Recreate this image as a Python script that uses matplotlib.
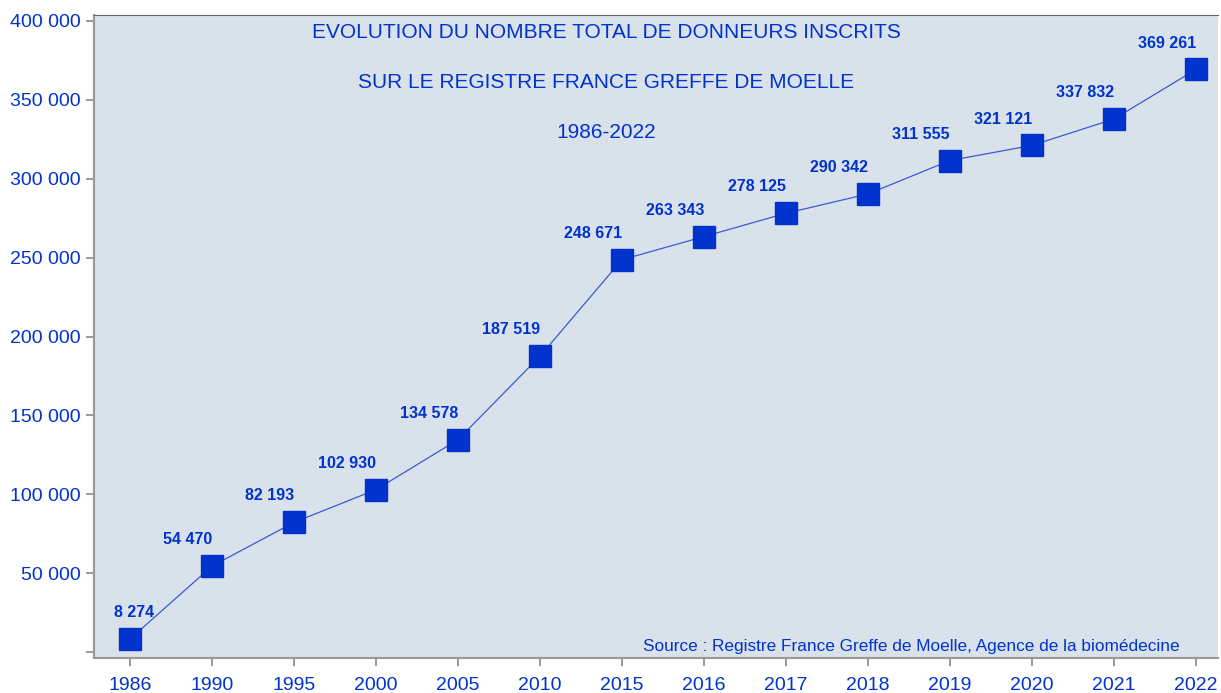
import matplotlib.pyplot as plt
from matplotlib.ticker import FuncFormatter

years = ['1986', '1990', '1995', '2000', '2005', '2010', '2015', '2016',
         '2017', '2018', '2019', '2020', '2021', '2022']
donneurs = [8274, 54470, 82193, 102930, 134578, 187519, 248671, 263343,
            278125, 290342, 311555, 321121, 337832, 369261]

blue = '#0033cc'
plt.rcParams['font.family'] = ['Liberation Sans', 'DejaVu Sans']

fig = plt.figure(figsize=(12.21, 6.93), dpi=100)
ax = fig.add_axes([94 / 1221, 1 - 658 / 693, (1218 - 94) / 1221, (658 - 15) / 693])
ax.set_facecolor('#d9e1eb')

x = list(range(len(years)))
ax.plot(x, donneurs, color='#3a5ad8', lw=0.9, marker='s', markersize=16,
        markerfacecolor=blue, markeredgecolor=blue, zorder=3)

for i, (xi, v) in enumerate(zip(x, donneurs)):
    lab = f'{v:,}'.replace(',', ' ')
    if i == 0:
        ax.annotate(lab, (xi, v), xytext=(3, 19), textcoords='offset points',
                    ha='center', va='center', color=blue, fontsize=11.5, fontweight='bold')
    else:
        ax.annotate(lab, (xi, v), xytext=(0, 19), textcoords='offset points',
                    ha='right', va='center', color=blue, fontsize=11.5, fontweight='bold')

ax.set_xlim(-0.44, 13.27)
ax.set_ylim(-3800, 403800)
ax.set_xticks(x)
ax.set_xticklabels(years)
ax.set_yticks(range(0, 400001, 50000))
ax.yaxis.set_major_formatter(FuncFormatter(lambda v, p: '' if v == 0 else f'{int(v):,}'.replace(',', ' ')))
ax.tick_params(axis='both', colors='#888888', labelcolor=blue, labelsize=14, length=6, width=1.2)
ax.tick_params(axis='x', pad=8)

for s in ['left', 'bottom']:
    ax.spines[s].set_color('#999999')
    ax.spines[s].set_linewidth(1.5)
ax.spines['top'].set_color('#666666')
ax.spines['top'].set_linewidth(0.8)
ax.spines['right'].set_visible(False)

fig.text(606 / 1221, 1 - 33 / 693, 'EVOLUTION DU NOMBRE TOTAL DE DONNEURS INSCRITS',
         ha='center', va='center', color=blue, fontsize=15)
fig.text(606 / 1221, 1 - 82 / 693, 'SUR LE REGISTRE FRANCE GREFFE DE MOELLE',
         ha='center', va='center', color=blue, fontsize=15)
fig.text(606 / 1221, 1 - 133 / 693, '1986-2022',
         ha='center', va='center', color=blue, fontsize=15)
fig.text(1180 / 1221, 1 - 647 / 693,
         'Source : Registre France Greffe de Moelle, Agence de la biomédecine',
         ha='right', va='center', color=blue, fontsize=12.4)

fig.savefig('out.png', dpi=100)
